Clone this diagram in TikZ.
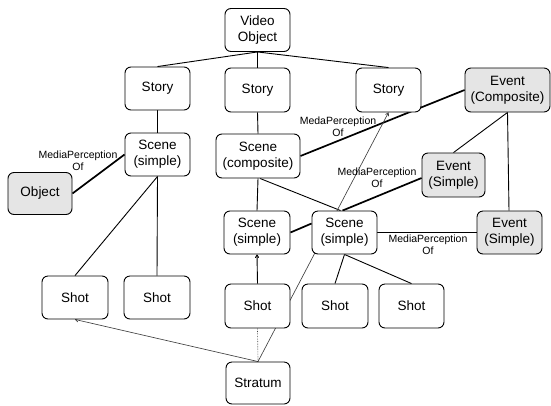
\documentclass[tikz,border=0pt]{standalone}
\usepackage{fontspec}
\setmainfont{Liberation Sans}
\usetikzlibrary{backgrounds,arrows.meta,calc}
\begin{document}
\begin{tikzpicture}[x=1pt,y=-1pt,
  box/.style={draw=black,line width=0.9pt,rounded corners=6pt,fill=white,align=center,
    inner sep=0pt,font=\fontsize{13.5}{16}\selectfont,minimum width=65pt,minimum height=43pt},
  gbox/.style={box,fill=black!10},
  lab/.style={align=center,inner sep=0pt,font=\fontsize{10.5}{12}\selectfont},
  conn/.style={line width=0.9pt},
  thick conn/.style={line width=1.7pt},
  thinline/.style={line width=0.65pt,draw=black!75},
  tip/.style={-{To[length=3.5pt,width=4pt]}}
]
\useasboundingbox (0,0) rectangle (551,405);
% nodes
\node[box] (vo) at (257.5,30) {Video\\Object};
\node[box] (st1) at (157.5,88.5) {Story};
\node[box,minimum height=44pt] (st2) at (257.5,90) {Story};
\node[box,minimum height=44pt] (st3) at (388.5,90) {Story};
\node[gbox,minimum width=85pt,minimum height=44pt] (evc) at (507.5,90) {Event\\(Composite)};
\node[box] (sc1) at (157.5,154.5) {Scene\\(simple)};
\node[gbox,minimum width=64pt,minimum height=42pt] (obj) at (40,193.5) {Object};
\node[box,minimum width=84pt,minimum height=44pt] (scc) at (258,156) {Scene\\(composite)};
\node[gbox,minimum width=63pt,minimum height=44pt] (evs1) at (453.5,175) {Event\\(Simple)};
\node[box,minimum width=66pt] (ml) at (257,232.5) {Scene\\(simple)};
\node[box] (mr) at (344.5,232.5) {Scene\\(simple)};
\node[gbox] (evs2) at (509.5,232.5) {Event\\(Simple)};
\node[box,minimum width=66pt] (sh1) at (75,297.5) {Shot};
\node[box,minimum width=66pt] (sh2) at (157,297.5) {Shot};
\node[box,minimum height=44pt] (sh3) at (257.5,306) {Shot};
\node[box,minimum width=66pt,minimum height=44pt] (sh4) at (335,306) {Shot};
\node[box,minimum height=44pt] (sh5) at (411.5,306) {Shot};
\node[box,minimum width=64pt,minimum height=42pt] (str) at (258,383) {Stratum};
% labels
\node[lab] (l1) at (78,160.5) {MediaPerception\\Of};
\node[lab] (l2) at (338,127) {MedaPerception\\Of};
\node[lab] (l3) at (377,178) {MediaPerception\\Of};
\node[lab] (l4) at (428,244.5) {MediaPerception\\Of};
% connectors
\begin{scope}[on background layer]
\draw[conn] (vo.south) -- (st1.north);
\draw[conn] (vo.south) -- (st2.north);
\draw[conn] (vo.south) -- (st3.north);
\draw[conn] (st1.south) -- (sc1.north);
\draw[conn] (st2.south) -- (scc.north);
\draw[thick conn] (obj.east) -- (sc1.west);
\draw[conn] (sc1.south) -- (sh1.north);
\draw[conn] (sc1.south) -- (sh2.north);
\draw[thick conn] (scc.east) -- (evc.west);
\draw[conn] (scc.south) -- (ml.north);
\draw[conn] ($(scc.south)+(2,0)$) -- ($(mr.north)+(-4,0)$);
\draw[thick conn] (ml.east) -- ($(mr.west)+(0,-9)$);
\draw[conn] (evc.south) -- (evs1.north);
\draw[conn] (evc.south) -- ($(evs2.north)+(-0.5,0)$);
\draw[thick conn] ($(evs1.west)+(0,3)$) -- ($(mr.north)+(-2,0)$);
\draw[thick conn] (mr.east) -- (evs2.west);
\draw[conn] (mr.south) -- (sh4.north);
\draw[conn] (mr.south) -- (sh5.north);
\draw[conn,tip] (sh3.north) -- (ml.south);
\draw[thinline,densely dotted] (str.north) -- (sh3.south);
\draw[thinline,tip] (str.north) -- (sh1.south);
\draw[thinline,tip] (str.north) -- (st3.south);
\end{scope}
\end{tikzpicture}
\end{document}
